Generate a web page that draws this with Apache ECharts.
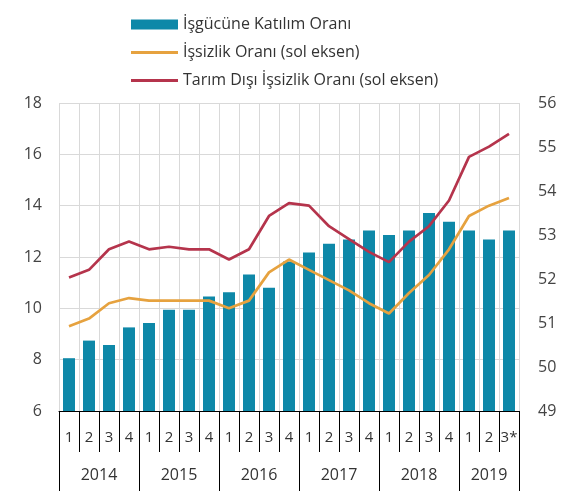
<!DOCTYPE html>
<html>
<head>
<meta charset="utf-8">
<script src="https://cdn.jsdelivr.net/npm/echarts@6/dist/echarts.min.js"></script>
<style>html,body{margin:0;padding:0;background:#fff}#c{width:576px;height:491px}</style>
</head>
<body>
<div id="c"></div>
<script>
var quarterLabels = ['1','2','3','4','1','2','3','4','1','2','3','4','1','2','3','4','1','2','3','4','1','2','3*'];
var years = ['2014','2015','2016','2017','2018','2019'];
var yearCenters = [2, 6, 10, 14, 18, 21.5];
var yearBounds = [0, 4, 8, 12, 16, 20, 23];
var participation = [50.2,50.6,50.5,50.9,51.0,51.3,51.3,51.6,51.7,52.1,51.8,52.4,52.6,52.8,52.9,53.1,53.0,53.1,53.5,53.3,53.1,52.9,53.1];
var unemployment = [9.3,9.6,10.2,10.4,10.3,10.3,10.3,10.3,10.0,10.3,11.4,11.9,11.5,11.1,10.7,10.2,9.8,10.6,11.3,12.3,13.6,14.0,14.3];
var nonfarm = [11.2,11.5,12.3,12.6,12.3,12.4,12.3,12.3,11.9,12.3,13.6,14.1,14.0,13.2,12.7,12.2,11.8,12.6,13.2,14.2,15.9,16.3,16.8];
var names = ['İşgücüne Katılım Oranı','İşsizlik Oranı (sol eksen)','Tarım Dışı İşsizlik Oranı (sol eksen)'];

var FONT = 'Open Sans';
var lineIcon = 'path://M0,0 L47,0 L47,3 L0,3 Z';
var chart = echarts.init(document.getElementById('c'), null, {renderer:'canvas'});
chart.setOption({
  animation: false,
  textStyle: {fontFamily: FONT},
  legend: {
    orient: 'vertical', left: 126, top: 9,
    itemWidth: 47, itemHeight: 10, itemGap: 7,
    textStyle: {fontSize: 16, color: '#333', fontFamily: FONT, lineHeight: 21},
    data: [{name: names[0], icon: 'rect'}, {name: names[1], icon: lineIcon}, {name: names[2], icon: lineIcon}]
  },
  grid: {left: 59, right: 57, top: 103, bottom: 80},
  xAxis: [{
    type: 'category', data: quarterLabels, position: 'bottom',
    axisLine: {show: true, lineStyle: {color: '#000', width: 1}},
    axisTick: {show: true, interval: 0, length: 41, lineStyle: {color: '#000', width: 1}},
    axisLabel: {interval: 0, margin: 19, fontSize: 15, color: '#333', fontFamily: FONT},
    splitLine: {show: true, interval: 0, lineStyle: {color: '#d9d9d9', width: 1}}
  }, {
    type: 'value', min: 0, max: 23, position: 'bottom',
    axisLine: {show: false},
    splitLine: {show: false},
    axisTick: {show: true, customValues: yearBounds, length: 80, lineStyle: {color: '#000', width: 1}},
    axisLabel: {customValues: yearCenters, margin: 56, fontSize: 16, color: '#333', fontFamily: FONT,
      formatter: function (v) { var i = yearCenters.indexOf(v); return i >= 0 ? years[i] : ''; }}
  }],
  yAxis: [{
    type: 'value', min: 6, max: 18, interval: 2, position: 'left',
    axisLine: {show: false}, axisTick: {show: false},
    axisLabel: {margin: 17, fontSize: 16, color: '#444', fontFamily: FONT},
    splitLine: {show: true, lineStyle: {color: '#d9d9d9', width: 1}}
  }, {
    type: 'value', min: 49, max: 56, interval: 1, position: 'right',
    axisLine: {show: false}, axisTick: {show: false},
    axisLabel: {margin: 19, fontSize: 16, color: '#444', fontFamily: FONT},
    splitLine: {show: false}
  }],
  series: [{
    name: names[0], type: 'bar', xAxisIndex: 0, yAxisIndex: 1, data: participation,
    barWidth: 12, itemStyle: {color: '#0e88a8'}, z: 2
  }, {
    name: names[1], type: 'line', xAxisIndex: 0, yAxisIndex: 0, data: unemployment,
    symbol: 'none', lineStyle: {color: '#e6a23f', width: 2.7}, itemStyle: {color: '#e6a23f'}, z: 3
  }, {
    name: names[2], type: 'line', xAxisIndex: 0, yAxisIndex: 0, data: nonfarm,
    symbol: 'none', lineStyle: {color: '#b5344c', width: 2.7}, itemStyle: {color: '#b5344c'}, z: 4
  }]
});
</script>
</body>
</html>
